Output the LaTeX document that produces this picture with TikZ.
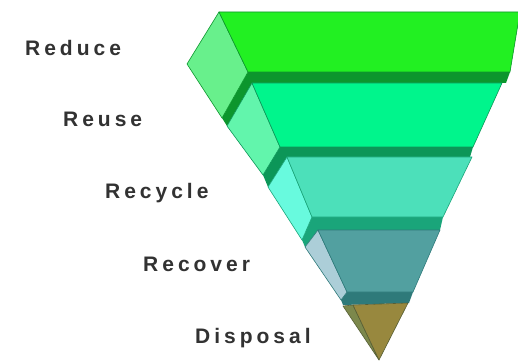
\documentclass[tikz,border=0pt]{standalone}
\usepackage{fontspec}
\newfontfamily\labfont{Liberation Sans}[LetterSpace=19]
\definecolor{lonef}{RGB}{34,240,34}
\definecolor{lones}{RGB}{104,240,140}
\definecolor{loned}{RGB}{12,150,45}
\definecolor{ltwof}{RGB}{0,245,140}
\definecolor{ltwos}{RGB}{98,245,172}
\definecolor{ltwod}{RGB}{12,150,88}
\definecolor{lthreef}{RGB}{76,224,186}
\definecolor{lthrees}{RGB}{104,250,222}
\definecolor{lthreed}{RGB}{26,165,122}
\definecolor{lfourf}{RGB}{82,160,160}
\definecolor{lfours}{RGB}{172,206,216}
\definecolor{lfourd}{RGB}{46,122,122}
\definecolor{lfivef}{RGB}{152,136,62}
\definecolor{lfives}{RGB}{124,136,76}
\definecolor{labgray}{RGB}{50,50,50}
\tikzset{
  face/.style={line width=0.6pt, line join=round},
  lab/.style={anchor=base west, inner sep=0pt, text=labgray,
    font=\labfont\bfseries\fontsize{21}{23}\selectfont}
}
\begin{document}
\begin{tikzpicture}[x=1pt,y=-1pt]
\useasboundingbox (0,0) rectangle (518,363);
\fill[white] (0,0) rectangle (518,363);
% layer 1
\fill[loned] (222,118) -- (248,72) -- (510,72) -- (506,83) -- (252,83) -- (227,126) -- cycle;
\filldraw[face, fill=lones, draw=loned] (219,12) -- (187,64) -- (222,118) -- (248,72) -- cycle;
\filldraw[face, fill=lonef, draw=loned] (219,12) -- (520,12) -- (510,72) -- (248,72) -- cycle;
% layer 2
\fill[ltwod] (263,175) -- (280,147) -- (473,147) -- (470,157) -- (287,157) -- (268,187) -- cycle;
\filldraw[face, fill=ltwos, draw=ltwod] (252,83) -- (227,126) -- (263,175) -- (280,147) -- cycle;
\filldraw[face, fill=ltwof, draw=ltwod] (252,83) -- (502,83) -- (473,147) -- (280,147) -- cycle;
% layer 3
\fill[lthreed] (302,240) -- (312,217) -- (443,217) -- (440,230) -- (318,230) -- (305,247) -- cycle;
\filldraw[face, fill=lthrees, draw=lthreed] (287,157) -- (268,187) -- (302,240) -- (312,217) -- cycle;
\filldraw[face, fill=lthreef, draw=lthreed] (287,157) -- (472,157) -- (443,217) -- (312,217) -- cycle;
% layer 4
\fill[lfourd] (341,300) -- (347,292) -- (413,292) -- (409,303) -- (343,305) -- cycle;
\filldraw[face, fill=lfours, draw=lfourd] (318,230) -- (305,247) -- (341,300) -- (347,292) -- cycle;
\filldraw[face, fill=lfourf, draw=lfourd] (318,230) -- (440,230) -- (413,292) -- (347,292) -- cycle;
% layer 5
\filldraw[face, fill=lfives, draw=lfives!70!black] (343,306) -- (353,305) -- (379,360) -- cycle;
\filldraw[face, fill=lfivef, draw=lfives!70!black] (353,305) -- (408,303) -- (379,360) -- cycle;
% labels
\node[lab] (reduce) at (25,56) {Reduce};
\node[lab] (reuse) at (63,127) {Reuse};
\node[lab] (recycle) at (105,198) {Recycle};
\node[lab] (recover) at (143,271) {Recover};
\node[lab] (disposal) at (195,343) {Disposal};
\end{tikzpicture}
\end{document}
